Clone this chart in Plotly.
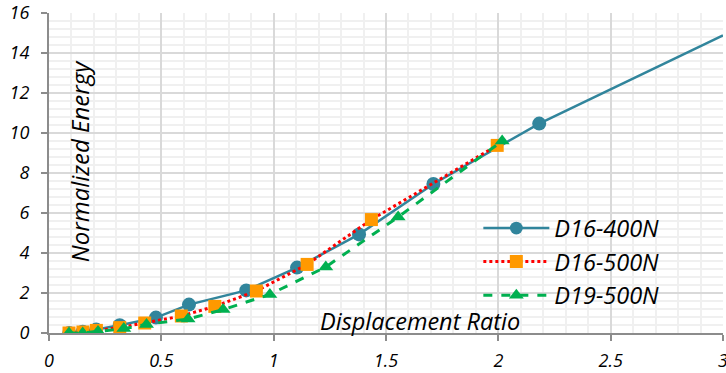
import plotly.graph_objects as go

# ---- data ----
d16_400_x = [0.09, 0.15, 0.21, 0.315, 0.476, 0.623, 0.878, 1.104, 1.38, 1.711, 2.182, 3.0]
d16_400_y = [0.0, 0.06, 0.17, 0.385, 0.77, 1.42, 2.13, 3.27, 4.93, 7.45, 10.47, 14.88]

d16_500_x = [0.089, 0.151, 0.211, 0.315, 0.426, 0.589, 0.738, 0.923, 1.149, 1.435, 1.995]
d16_500_y = [0.0, 0.05, 0.13, 0.27, 0.5, 0.85, 1.33, 2.1, 3.43, 5.67, 9.38]

d19_500_x = [0.089, 0.15, 0.218, 0.333, 0.434, 0.619, 0.775, 0.983, 1.232, 1.554, 2.017]
d19_500_y = [0.0, 0.0, 0.08, 0.22, 0.43, 0.7, 1.17, 1.93, 3.3, 5.8, 9.6]

series_names = ["D16-400N", "D16-500N", "D19-500N"]
x_title = "Displacement Ratio"
y_title = "Normalized Energy"

FONT = "Open Sans"
TEAL = "#31859C"
ORANGE = "#FF9900"
RED = "#FF0000"
GREEN = "#00B050"

fig = go.Figure()

# last point of first series is the line end without a marker
sizes_400 = [14] * (len(d16_400_x) - 1) + [0]

fig.add_trace(go.Scatter(
    x=d16_400_x, y=d16_400_y, name=series_names[0], mode="lines+markers",
    line=dict(color=TEAL, width=2.5),
    marker=dict(symbol="circle", size=sizes_400, color=TEAL, opacity=1,
                line=dict(width=0)),
    legendgroup="a",
))
fig.add_trace(go.Scatter(
    x=d16_500_x, y=d16_500_y, name=series_names[1], mode="lines+markers",
    line=dict(color=RED, width=3, dash="dot"),
    marker=dict(symbol="square", size=13, color=ORANGE, opacity=1,
                line=dict(width=0)),
    legendgroup="b",
))
fig.add_trace(go.Scatter(
    x=d19_500_x, y=d19_500_y, name=series_names[2], mode="lines+markers",
    line=dict(color=GREEN, width=3, dash="dash"),
    marker=dict(symbol="triangle-up", size=13, color=GREEN, opacity=1,
                line=dict(width=0)),
    legendgroup="c",
))

axis_common = dict(
    showline=True, linecolor="#8C8C8C", linewidth=2,
    ticks="outside", ticklen=6, tickcolor="#8C8C8C", tickwidth=1.5,
    showgrid=True, gridcolor="#D9D9D9", gridwidth=1.5,
    zeroline=False, automargin=False, ticklabeloverflow="allow",
    tickfont=dict(family=FONT, size=18, color="#000000", style="italic"),
)

fig.update_xaxes(
    range=[0, 3], dtick=0.5, tick0=0, ticklabelstandoff=4,
    minor=dict(dtick=0.1, showgrid=True, gridcolor="#F0F0F0", gridwidth=1.5, ticks=""),
    **axis_common,
)
fig.update_yaxes(
    range=[0, 16], dtick=2, tick0=0, ticklabelstandoff=8,
    minor=dict(dtick=0.4, showgrid=True, gridcolor="#F0F0F0", gridwidth=1.5, ticks=""),
    **axis_common,
)

fig.add_annotation(
    text=x_title, xref="paper", yref="paper", x=0.55, y=0.037,
    xanchor="center", yanchor="middle", showarrow=False,
    font=dict(family=FONT, size=23.5, color="#000000", style="italic"),
)
fig.add_annotation(
    text=y_title, xref="paper", yref="paper", x=0.0445, y=0.537,
    xanchor="center", yanchor="middle", showarrow=False, textangle=-90,
    font=dict(family=FONT, size=24, color="#000000", style="italic"),
)

fig.update_layout(
    width=726, height=373,
    margin=dict(l=49, r=3, t=13, b=40),
    plot_bgcolor="white", paper_bgcolor="white",
    showlegend=True,
    legend=dict(
        x=0.637, y=0.396, xanchor="left", yanchor="top",
        bgcolor="rgba(0,0,0,0)", borderwidth=0,
        font=dict(family=FONT, size=23.5, color="#000000", style="italic"),
        itemwidth=66, traceorder="grouped", tracegroupgap=0,
    ),
)

fig.write_html("out.html", config={"displayModeBar": False},
               post_script="document.body.style.margin='0';")
